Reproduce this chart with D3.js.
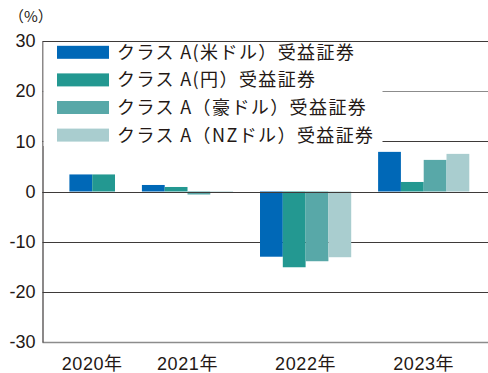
<!DOCTYPE html>
<html>
<head>
<meta charset="utf-8">
<script src="https://cdn.jsdelivr.net/npm/d3@7/dist/d3.min.js"></script>
<style>
  html, body { margin: 0; padding: 0; background: #fff; }
  svg { display: block; }
  text { fill: #231815; }
</style>
</head>
<body>
<svg id="chart" width="488" height="373"></svg>
<script>
// Annual returns (%) by share class
const years = ["2020年", "2021年", "2022年", "2023年"];
const seriesNames = [
  "クラス A(米ドル）受益証券",
  "クラス A(円）受益証券",
  "クラス A（豪ドル）受益証券",
  "クラス A（NZドル）受益証券"
];
const usdValues = [3.4, 1.3, -13.0, 7.9];
const jpyValues = [3.4, 0.9, -15.1, 1.9];
const audValues = [null, -0.6, -13.9, 6.3];
const nzdValues = [null, -0.1, -13.1, 7.5];
const seriesColors = ["#0068b7", "#239891", "#58a8a8", "#a9cdcf"];
const yTicks = [30, 20, 10, 0, -10, -20, -30];

const seriesValues = [usdValues, jpyValues, audValues, nzdValues];

const svg = d3.select("#chart");
const plotLeft = 42.5, plotRight = 488, plotTop = 41, plotBottom = 342;

const y = d3.scaleLinear().domain([-30, 30]).range([plotBottom, plotTop]);

// Horizontal layout in "bar units": each bar one unit, fixed gap between year groups
const gapUnits = 1.18, tailUnits = 0.82;
const groups = years.map((yr, i) => ({
  year: yr,
  bars: seriesValues.map((vals, s) => ({ s, v: vals[i] })).filter(d => d.v !== null)
}));
let cursor = gapUnits;
groups.forEach(g => {
  g.start = cursor;
  g.end = cursor + g.bars.length;
  cursor = g.end + gapUnits;
});
const totalUnits = groups[groups.length - 1].end + tailUnits;
const x = d3.scaleLinear().domain([0, totalUnits]).range([plotLeft, plotRight]);

// Gridlines
const gridColor = t => (t === 20 || t === -30) ? "#8c8c8c" : "#3e3a39";
svg.append("g").selectAll("line").data(yTicks).join("line")
  .attr("x1", plotLeft).attr("x2", plotRight)
  .attr("y1", d => Math.round(y(d)) + 0.5).attr("y2", d => Math.round(y(d)) + 0.5)
  .attr("stroke", gridColor)
  .attr("stroke-width", d => d === -30 ? 1.6 : 1.1);

// Bars
const barG = svg.append("g");
groups.forEach(g => {
  barG.selectAll(null).data(g.bars).join("rect")
    .attr("x", (d, j) => x(g.start + j))
    .attr("width", x(1) - x(0))
    .attr("y", d => y(Math.max(0, d.v)))
    .attr("height", d => Math.abs(y(d.v) - y(0)))
    .attr("fill", d => seriesColors[d.s]);
});

// Zero line above bars
svg.append("line")
  .attr("x1", plotLeft).attr("x2", plotRight)
  .attr("y1", Math.round(y(0)) + 0.5).attr("y2", Math.round(y(0)) + 0.5)
  .attr("stroke", "#3e3a39").attr("stroke-width", 1.1);

// Y axis (plain hyphen for negatives)
const yAxis = d3.axisLeft(y).tickValues(yTicks).tickSize(0).tickPadding(7)
  .tickFormat(d => String(d));
const yg = svg.append("g").attr("transform", `translate(${plotLeft},0)`).call(yAxis);
yg.select(".domain").attr("stroke", "#3e3a39").attr("stroke-width", 1.2);
yg.selectAll("text")
  .attr("font-family", "'Liberation Sans', Arial, sans-serif")
  .attr("font-size", 18).attr("fill", "#231815");

// X labels
svg.append("g").selectAll("text").data(groups).join("text")
  .attr("x", g => x((g.start + g.end) / 2))
  .attr("y", 370)
  .attr("text-anchor", "middle")
  .attr("font-family", "'Liberation Sans', 'Noto Sans CJK JP', sans-serif")
  .attr("font-size", 18)
  .attr("letter-spacing", 0.6)
  .text(g => g.year);

// Unit label
svg.append("text").attr("x", 9).attr("y", 22)
  .attr("font-family", "'Noto Sans CJK JP', sans-serif")
  .attr("font-size", 15).text("（%）");

// Legend
const legend = svg.append("g");
legend.append("rect").attr("x", plotLeft + 1).attr("y", plotTop + 1)
  .attr("width", 339).attr("height", 104).attr("fill", "#fff");
const rowY = i => 52.3 + i * 27.6;
legend.selectAll("rect.sw").data(seriesNames).join("rect")
  .attr("class", "sw")
  .attr("x", 57).attr("y", (d, i) => rowY(i) - 6.5)
  .attr("width", 52).attr("height", 13)
  .attr("fill", (d, i) => seriesColors[i]);
legend.selectAll("text.lb").data(seriesNames).join("text")
  .attr("class", "lb")
  .attr("x", 117).attr("y", (d, i) => rowY(i) + 6.5)
  .attr("font-family", "'Noto Sans CJK JP', sans-serif")
  .attr("font-size", 18)
  .attr("letter-spacing", 1.4)
  .text(d => d);
</script>
</body>
</html>
